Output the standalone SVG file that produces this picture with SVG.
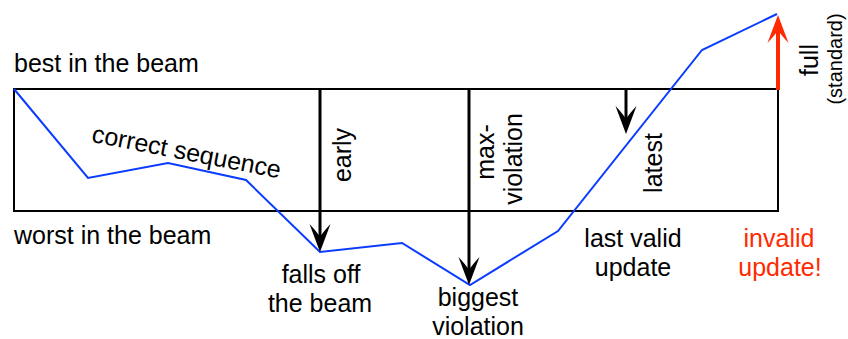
<svg xmlns="http://www.w3.org/2000/svg" width="848" height="339" viewBox="0 0 848 339">
<style>
text{font-family:"Liberation Sans",Arial,Helvetica,sans-serif;font-size:25px;fill:#000}
.c{text-anchor:middle}
.red{fill:#ff2a00}
.shaft{stroke:#000;stroke-width:3;fill:none}
</style>
<defs>
<marker id="ah" markerUnits="userSpaceOnUse" viewBox="-30 -12 36 24" refX="-6" refY="0" markerWidth="36" markerHeight="24" orient="auto" overflow="visible">
<path d="M0,0 L-28,-10.5 Q-20,-3 -15,0 Q-20,3 -28,10.5 Z" fill="#000"/>
</marker>
<marker id="ahr" markerUnits="userSpaceOnUse" viewBox="-30 -12 36 24" refX="-6" refY="0" markerWidth="36" markerHeight="24" orient="auto" overflow="visible">
<path d="M0,0 L-28,-10.5 Q-20,-3 -15,0 Q-20,3 -28,10.5 Z" fill="#ff2a00"/>
</marker>
</defs>
<g id="beam">
<rect x="14" y="89" width="764" height="122" fill="none" stroke="#000" stroke-width="2"/>
<text x="14" y="72">best in the beam</text>
<text x="14" y="244">worst in the beam</text>
</g>
<g id="sequence">
<polyline points="14,89 88,178 168,163 246,180 320,252 402,243 470,285 558,231 702,50 777,14" fill="none" stroke="#0a3cff" stroke-width="2"/>
<text class="c" transform="translate(185,160) rotate(11)">correct sequence</text>
</g>
<g id="connectors">
<line class="shaft" x1="320" y1="88" x2="320" y2="246" marker-end="url(#ah)"/>
<line class="shaft" x1="469" y1="88" x2="469" y2="279" marker-end="url(#ah)"/>
<line class="shaft" x1="626" y1="88" x2="626" y2="128" marker-end="url(#ah)"/>
<line x1="778" y1="90" x2="778" y2="21" stroke="#ff2a00" stroke-width="4" marker-end="url(#ahr)"/>
</g>
<g id="early"><text class="c" transform="translate(351,155) rotate(-90)">early</text></g>
<g id="maxviolation">
<text class="c" transform="translate(494,152) rotate(-90)">max-</text>
<text class="c" transform="translate(522,159) rotate(-90)">violation</text>
</g>
<g id="latest"><text class="c" transform="translate(662,163) rotate(-90)">latest</text></g>
<g id="full">
<text class="c" transform="translate(818,60) rotate(-90)">full</text>
<text class="c" transform="translate(842,59) rotate(-90)" style="font-size:20px">(standard)</text>
</g>
<g id="fallsoff">
<text class="c" x="321" y="283">falls off</text>
<text class="c" x="320" y="312">the beam</text>
</g>
<g id="biggest">
<text class="c" x="478" y="306">biggest</text>
<text class="c" x="478" y="335">violation</text>
</g>
<g id="lastvalid">
<text class="c" x="633" y="247">last valid</text>
<text class="c" x="633" y="276">update</text>
</g>
<g id="invalid">
<text class="c red" x="779" y="247">invalid</text>
<text class="c red" x="780" y="276">update!</text>
</g>
</svg>
